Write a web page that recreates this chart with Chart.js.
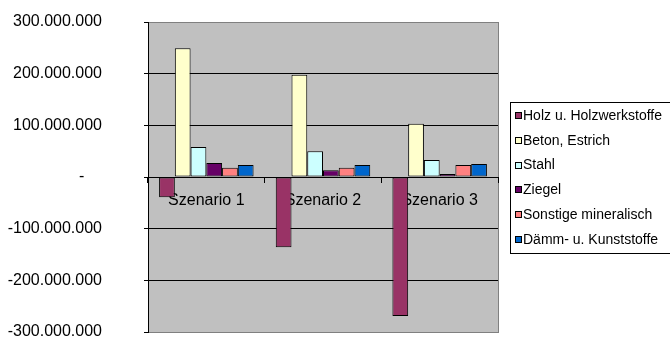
<!DOCTYPE html>
<html>
<head>
<meta charset="utf-8">
<script src="https://cdn.jsdelivr.net/npm/chart.js@4/dist/chart.umd.min.js"></script>
<style>
  html, body { margin: 0; padding: 0; background: #fff; }
  #wrap { width: 670px; height: 343px; }
</style>
</head>
<body>
<div id="wrap"><canvas id="chart"></canvas></div>
<script>
// Daten
const szenarien = ["Szenario 1", "Szenario 2", "Szenario 3"];
const holz = [-39000000, -136000000, -269000000];
const beton = [249000000, 198000000, 103000000];
const stahl = [58000000, 50000000, 33000000];
const ziegel = [27000000, 13000000, 6000000];
const sonstige = [18000000, 18000000, 23000000];
const daemm = [23000000, 23000000, 25000000];
const yTicks = [-300000000, -200000000, -100000000, 0, 100000000, 200000000, 300000000];

const FONT = "'Liberation Sans', Arial, sans-serif";

// Zahl mit Punkt als Tausendertrenner
function formatZahl(v) {
    if (v === 0) return "-    ";
    const s = Math.abs(v).toString().replace(/\B(?=(\d{3})+(?!\d))/g, ".");
    return (v < 0 ? "-" : "") + s;
}

// grauer Hintergrund der Zeichenfläche
const plotBg = {
    id: 'plotBg',
    beforeDraw(chart) {
        const a = chart.chartArea;
        const ctx = chart.ctx;
        ctx.save();
        ctx.fillStyle = '#C0C0C0';
        ctx.fillRect(a.left, a.top, a.right - a.left, a.bottom - a.top);
        ctx.strokeStyle = '#808080';
        ctx.lineWidth = 1;
        ctx.strokeRect(a.left + 0.5, a.top + 0.5, a.right - a.left, a.bottom - a.top);
        ctx.restore();
    }
};

// Legende mit Rahmen wie im Original
const boxLegende = {
    id: 'boxLegende',
    afterDraw(chart) {
        const ctx = chart.ctx;
        ctx.save();
        ctx.fillStyle = '#fff';
        ctx.strokeStyle = '#000';
        ctx.lineWidth = 1;
        ctx.fillRect(510, 102, 170, 151);
        ctx.strokeRect(510.5, 102.5, 170, 151);
        ctx.font = '14px ' + FONT;
        ctx.textBaseline = 'middle';
        chart.data.datasets.forEach((ds, i) => {
            const y = 116 + i * 24.8;
            ctx.fillStyle = ds.backgroundColor;
            ctx.fillRect(515, Math.round(y) - 3, 6, 6);
            ctx.strokeStyle = '#000';
            ctx.strokeRect(515.5, Math.round(y) - 3.5, 6, 6);
            ctx.fillStyle = '#000';
            ctx.fillText(ds.label, 523, y);
        });
        ctx.restore();
    }
};

function datensatz(label, data, farbe) {
    return {
        label: label,
        data: data,
        backgroundColor: farbe,
        borderColor: '#000',
        borderWidth: 1,
        borderSkipped: false,
        barPercentage: 1,
        categoryPercentage: 0.81
    };
}

const ctx = document.getElementById('chart').getContext('2d');
const chart = new Chart(ctx, {
    type: 'bar',
    data: {
        labels: szenarien,
        datasets: [
            datensatz('Holz u. Holzwerkstoffe', holz, '#993366'),
            datensatz('Beton, Estrich', beton, '#FFFFCC'),
            datensatz('Stahl', stahl, '#CCFFFF'),
            datensatz('Ziegel', ziegel, '#660066'),
            datensatz('Sonstige mineralisch', sonstige, '#FF8080'),
            datensatz('Dämm- u. Kunststoffe', daemm, '#0066CC')
        ]
    },
    options: {
        responsive: true,
        maintainAspectRatio: false,
        animation: false,
        layout: { padding: { left: 0, top: 22, right: 172, bottom: 11 } },
        plugins: {
            legend: { display: false },
            tooltip: { enabled: false }
        },
        scales: {
            x: {
                position: { y: 0 },
                afterFit(scale) { scale.height = 0; },
                grid: {
                    offset: true,
                    drawOnChartArea: false,
                    drawTicks: true,
                    tickLength: 5,
                    tickColor: '#000'
                },
                border: { color: '#000', width: 1 },
                ticks: {
                    color: '#000',
                    padding: 9,
                    font: { family: FONT, size: 16 }
                }
            },
            y: {
                min: -300000000,
                max: 300000000,
                afterFit(scale) {
                    scale.width = 148;
                    // Abstand der Beschriftung soll die Höhe nicht beeinflussen
                    scale.paddingTop = 0;
                    scale.paddingBottom = 0;
                },
                afterBuildTicks(scale) {
                    scale.ticks = yTicks.map(v => ({ value: v }));
                },
                grid: {
                    color: c => (c.tick && Math.abs(c.tick.value) === 300000000) ? '#808080' : '#000',
                    tickColor: '#000',
                    tickLength: 4
                },
                border: { color: '#000', width: 1 },
                ticks: {
                    color: '#000',
                    padding: 42,
                    font: { family: FONT, size: 16 },
                    callback: v => formatZahl(v)
                }
            }
        }
    },
    plugins: [plotBg, boxLegende]
});
</script>
</body>
</html>
